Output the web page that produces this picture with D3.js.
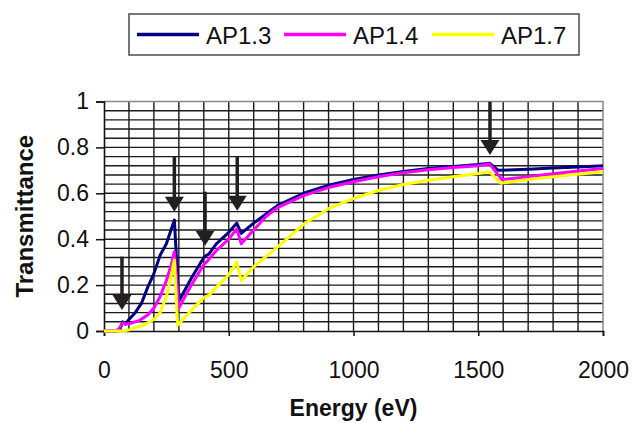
<!DOCTYPE html>
<html><head><meta charset="utf-8">
<script src="https://cdn.jsdelivr.net/npm/d3@7"></script>
<style>
body{margin:0;background:#fff}
svg{display:block}
text{font-family:"Liberation Sans",Arial,Helvetica,sans-serif;fill:#111}
</style>
</head><body>
<svg id="chart" width="633" height="423"></svg>
<script>
// ---------- data ----------
const seriesNames = ["AP1.3", "AP1.4", "AP1.7"];
const seriesColors = ["#000080", "#ff00ff", "#ffff00"];

const energyAP13 = [0, 50, 65, 75, 85, 100, 125, 150, 175, 200, 225, 250, 282, 300, 350, 400, 410, 420, 450, 500, 532, 550, 600, 650, 700, 800, 900, 1000, 1100, 1200, 1300, 1400, 1500, 1545, 1580, 1700, 1800, 1900, 2000];
const transAP13  = [0, 0, 0.01, 0.04, 0.03, 0.05, 0.08, 0.12, 0.19, 0.25, 0.33, 0.38, 0.484, 0.13, 0.23, 0.32, 0.33, 0.335, 0.38, 0.43, 0.47, 0.425, 0.47, 0.51, 0.55, 0.60, 0.635, 0.66, 0.68, 0.695, 0.708, 0.717, 0.725, 0.731, 0.70, 0.705, 0.71, 0.715, 0.72];

const energyAP14 = [0, 50, 60, 75, 90, 110, 140, 175, 200, 225, 250, 270, 282, 300, 350, 400, 410, 450, 500, 532, 550, 600, 650, 700, 800, 900, 1000, 1100, 1200, 1300, 1400, 1500, 1545, 1595, 1700, 1800, 1900, 2000];
const transAP14  = [0, 0, 0.01, 0.035, 0.03, 0.035, 0.045, 0.07, 0.10, 0.15, 0.22, 0.29, 0.345, 0.10, 0.20, 0.29, 0.30, 0.35, 0.40, 0.445, 0.38, 0.44, 0.50, 0.54, 0.59, 0.625, 0.65, 0.672, 0.69, 0.703, 0.712, 0.72, 0.728, 0.66, 0.672, 0.685, 0.697, 0.708];

const energyAP17 = [0, 80, 100, 125, 150, 175, 200, 225, 250, 265, 282, 295, 350, 400, 420, 450, 500, 532, 550, 600, 650, 700, 800, 900, 1000, 1100, 1200, 1300, 1400, 1500, 1545, 1590, 1700, 1800, 1900, 2000];
const transAP17  = [0, 0, 0.005, 0.015, 0.022, 0.035, 0.05, 0.08, 0.15, 0.22, 0.31, 0.025, 0.09, 0.145, 0.155, 0.19, 0.245, 0.30, 0.22, 0.28, 0.325, 0.37, 0.465, 0.533, 0.578, 0.612, 0.638, 0.657, 0.672, 0.686, 0.694, 0.644, 0.66, 0.672, 0.683, 0.694];

const xTickValues = [0, 500, 1000, 1500, 2000];
const xTickLabels = ["0", "500", "1000", "1500", "2000"];
const yTickValues = [0, 0.2, 0.4, 0.6, 0.8, 1];
const yTickLabels = ["0", "0.2", "0.4", "0.6", "0.8", "1"];

// absorption-edge arrows (energy, tail value, tip value)
const arrowEnergy = [72, 282, 405, 534, 1547];
const arrowTail   = [0.324, 0.758, 0.607, 0.758, 0.999];
const arrowTip    = [0.092, 0.52, 0.372, 0.524, 0.767];

const xTitle = "Energy (eV)";
const yTitle = "Transmittance";

// ---------- layout ----------
const svg = d3.select("#chart");
const L = 104, T = 101.5, W = 499, H = 229.5;
const x = d3.scaleLinear().domain([0, 2000]).range([L, L + W]);
const y = d3.scaleLinear().domain([0, 1]).range([T + H, T]);

// gridlines
const g = svg.append("g");
g.selectAll("line.v").data(d3.range(100, 2000, 100)).join("line")
  .attr("x1", d => x(d)).attr("x2", d => x(d)).attr("y1", T).attr("y2", T + H)
  .attr("stroke", "#1a1a1a").attr("stroke-width", 1.4);
g.selectAll("line.h").data(d3.range(1, 25).map(i => i * 0.04)).join("line")
  .attr("x1", L).attr("x2", L + W).attr("y1", d => y(d)).attr("y2", d => y(d))
  .attr("stroke", "#1a1a1a").attr("stroke-width", 1.4);

// plot border (top/right gray)
svg.append("path")
  .attr("d", `M${L},${T}H${L + W}V${T + H}`)
  .attr("fill", "none").attr("stroke", "#888").attr("stroke-width", 1.5);

// axes
const xAxis = d3.axisBottom(x).tickValues(xTickValues).tickFormat((d, i) => xTickLabels[i]).tickSize(5).tickPadding(26);
const yAxis = d3.axisLeft(y).tickValues(yTickValues).tickFormat((d, i) => yTickLabels[i]).tickSize(8).tickPadding(7);
const gx = svg.append("g").attr("transform", `translate(0,${T + H})`).call(xAxis);
const gy = svg.append("g").attr("transform", `translate(${L},0)`).call(yAxis);
[gx, gy].forEach(a => {
  a.select(".domain").attr("stroke", "#111").attr("stroke-width", 1.6);
  a.selectAll(".tick line").attr("stroke", "#111").attr("stroke-width", 1.5);
  a.selectAll(".tick text").attr("font-size", 23).attr("fill", "#111")
    .attr("font-family", '"Liberation Sans",Arial,sans-serif');
});

// series
const seriesData = [
  d3.zip(energyAP13, transAP13),
  d3.zip(energyAP14, transAP14),
  d3.zip(energyAP17, transAP17)
];
const line = d3.line().x(d => x(d[0])).y(d => y(d[1]));
svg.append("g").selectAll("path").data(seriesData).join("path")
  .attr("d", line).attr("fill", "none")
  .attr("stroke", (d, i) => seriesColors[i]).attr("stroke-width", 3)
  .attr("stroke-linejoin", "round");

// arrows
const ag = svg.append("g");
arrowEnergy.forEach((e, i) => {
  const ax = x(e), y0 = y(arrowTail[i]), y1 = y(arrowTip[i]);
  ag.append("line").attr("x1", ax).attr("x2", ax).attr("y1", y0).attr("y2", y1 - 12)
    .attr("stroke", "#231f20").attr("stroke-width", 3.5);
  ag.append("path").attr("d", `M${ax - 9.5},${y1 - 15}L${ax + 9.5},${y1 - 15}L${ax},${y1}Z`)
    .attr("fill", "#231f20");
});

// axis titles
svg.append("text").attr("x", L + W / 2).attr("y", 416).attr("text-anchor", "middle")
  .attr("font-size", 23).attr("font-weight", "bold").text(xTitle);
svg.append("text").attr("transform", `translate(33,${T + H / 2}) rotate(-90)`)
  .attr("text-anchor", "middle").attr("font-size", 24).attr("font-weight", "bold").text(yTitle);

// legend
const lg = svg.append("g");
lg.append("rect").attr("x", 129).attr("y", 14).attr("width", 450).attr("height", 41)
  .attr("fill", "#fff").attr("stroke", "#555").attr("stroke-width", 1.6);
const legendX = [137, 284, 432];
seriesNames.forEach((n, i) => {
  lg.append("line").attr("x1", legendX[i]).attr("x2", legendX[i] + 62).attr("y1", 34.5).attr("y2", 34.5)
    .attr("stroke", seriesColors[i]).attr("stroke-width", 3.3);
  lg.append("text").attr("x", legendX[i] + 69).attr("y", 44).attr("font-size", 24).text(n);
});
</script>
</body></html>
